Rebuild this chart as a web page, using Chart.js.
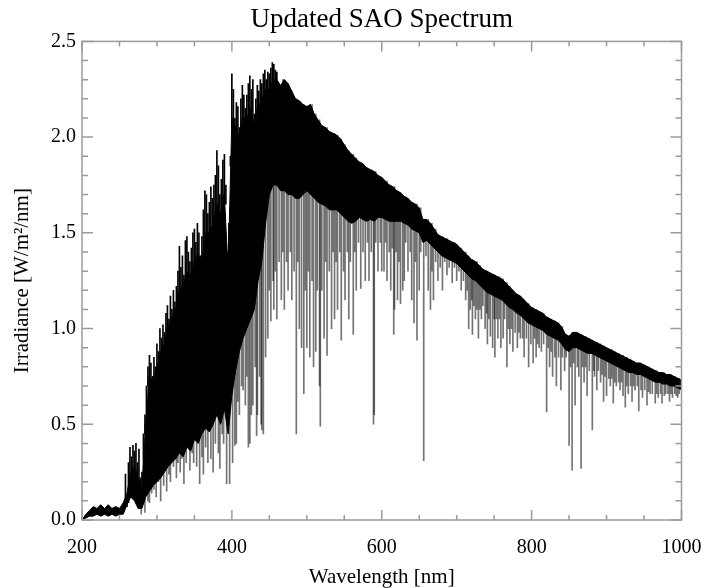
<!DOCTYPE html>
<html>
<head>
<meta charset="utf-8">
<script src="https://cdn.jsdelivr.net/npm/chart.js@4.4.0/dist/chart.umd.min.js"></script>
<style>
html,body{margin:0;padding:0;background:#fff;}
#wrap{position:relative;width:701px;height:588px;}
</style>
</head>
<body>
<div id="wrap"><canvas id="c"></canvas></div>
<script>
// Wavelength grid (nm) for the spectrum envelope
const wavelengths = [
200,205,210,215,220,225,230,235,240,245,
250,255,260,265,270,275,280,285,290,295,
300,305,310,315,320,325,330,335,340,345,
350,355,360,365,370,375,380,385,390,395,
400,405,410,415,420,425,430,435,440,445,
450,455,460,465,470,475,480,485,490,495,
500,505,510,515,520,525,530,535,540,545,
550,555,560,565,570,575,580,585,590,595,
600,605,610,615,620,625,630,635,640,645,
650,655,660,665,670,675,680,685,690,695,
700,705,710,715,720,725,730,735,740,745,
750,755,760,765,770,775,780,785,790,795,
800,805,810,815,820,825,830,835,840,845,
850,855,860,865,870,875,880,885,890,895,
900,905,910,915,920,925,930,935,940,945,
950,955,960,965,970,975,980,985,990,995,
1000];
// Upper edge of the solid core of the spectrum (W/m^2/nm)
const upperIrr = [
0.00,0.03,0.05,0.07,0.06,0.08,0.06,0.08,0.06,0.07,
0.06,0.09,0.14,0.25,0.28,0.22,0.15,0.50,0.75,0.72,
0.80,0.88,0.92,1.00,1.05,1.10,1.20,1.22,1.30,1.28,
1.35,1.38,1.35,1.50,1.50,1.55,1.65,1.60,1.70,1.30,
2.10,2.05,2.00,2.10,2.10,2.15,2.05,2.15,2.20,2.25,
2.25,2.30,2.30,2.27,2.30,2.28,2.24,2.20,2.19,2.17,
2.16,2.17,2.12,2.09,2.06,2.05,2.03,2.02,2.01,1.99,
1.96,1.93,1.91,1.89,1.87,1.86,1.84,1.83,1.82,1.80,
1.79,1.77,1.75,1.74,1.72,1.71,1.69,1.68,1.66,1.65,
1.63,1.57,1.57,1.55,1.52,1.49,1.48,1.47,1.46,1.45,
1.44,1.42,1.40,1.38,1.36,1.35,1.33,1.31,1.30,1.29,
1.28,1.27,1.26,1.24,1.22,1.20,1.18,1.17,1.15,1.13,
1.11,1.10,1.09,1.08,1.06,1.05,1.04,1.03,1.01,0.97,
0.96,0.98,0.98,0.97,0.96,0.95,0.94,0.93,0.92,0.91,
0.90,0.89,0.88,0.87,0.86,0.85,0.84,0.83,0.82,0.82,
0.81,0.80,0.79,0.78,0.77,0.77,0.76,0.76,0.75,0.74,
0.73];
// Lower edge of the dense (solid) part of the spectrum
const denseLowIrr = [
0.00,0.01,0.02,0.02,0.03,0.02,0.03,0.02,0.03,0.02,
0.03,0.03,0.08,0.12,0.10,0.06,0.06,0.12,0.15,0.18,
0.20,0.22,0.25,0.28,0.30,0.32,0.35,0.33,0.38,0.36,
0.42,0.40,0.45,0.48,0.46,0.50,0.55,0.50,0.58,0.45,
0.65,0.78,0.88,0.95,1.00,1.05,1.10,1.25,1.35,1.55,
1.70,1.75,1.75,1.72,1.72,1.70,1.70,1.68,1.68,1.70,
1.72,1.70,1.68,1.66,1.65,1.64,1.62,1.62,1.62,1.60,
1.58,1.56,1.55,1.56,1.58,1.57,1.56,1.57,1.56,1.58,
1.58,1.57,1.56,1.56,1.56,1.56,1.55,1.54,1.52,1.51,
1.50,1.45,1.46,1.44,1.42,1.40,1.38,1.37,1.36,1.35,
1.34,1.32,1.30,1.28,1.26,1.25,1.23,1.21,1.19,1.18,
1.17,1.16,1.15,1.13,1.11,1.10,1.08,1.07,1.05,1.03,
1.02,1.01,1.00,0.99,0.97,0.96,0.95,0.94,0.92,0.89,
0.88,0.90,0.90,0.89,0.88,0.87,0.87,0.86,0.85,0.84,
0.83,0.82,0.81,0.80,0.79,0.78,0.77,0.77,0.76,0.76,
0.75,0.74,0.73,0.72,0.72,0.71,0.71,0.70,0.70,0.69,
0.68];
// Emission peaks rising above the core, 258-460 nm
const peakWl = [
258,260,262,264,266,268,270,272,274,276,278,
280,282,284,286,288,290,292,294,296,298,
300,302,304,306,308,310,312,314,316,318,
320,322,324,326,328,330,332,334,336,338,
340,342,344,346,348,350,352,354,356,358,
360,362,364,366,368,370,372,374,376,378,
380,382,384,386,388,390,392,394,396,398,
400,402,404,406,408,410,412,414,416,418,
420,422,424,426,428,430,432,434,436,438,
440,442,444,446,448,450,452,454,456,458,
460];
const peakIrr = [
0.24,0.12,0.30,0.38,0.33,0.39,0.36,0.40,0.30,0.37,0.22,
0.25,0.45,0.55,0.70,0.80,0.86,0.82,0.75,0.85,0.80,
0.92,0.88,1.00,0.95,1.02,0.98,1.08,1.12,1.05,1.17,
1.10,1.20,1.14,1.22,1.30,1.43,1.32,1.38,1.28,1.46,
1.48,1.40,1.35,1.42,1.50,1.52,1.45,1.55,1.50,1.38,
1.48,1.62,1.72,1.70,1.60,1.66,1.74,1.68,1.75,1.80,
1.93,1.85,1.70,1.78,1.88,1.91,1.75,1.40,1.55,1.90,
2.33,2.25,2.10,2.18,2.16,2.05,2.20,2.27,2.22,2.15,
2.22,2.28,2.32,2.25,2.30,2.12,2.20,2.27,2.24,2.30,
2.28,2.33,2.35,2.30,2.34,2.33,2.36,2.39,2.38,2.35,
2.34];
// Absorption lines: wavelength (nm) and the irradiance they dip down to
const lineWl = [
279,284,288,290,293,296,299,302,305,309,313,316,318,322,326,328,331,333,336,339,
344,347,349,353,357,360,362,365,368,372,375,378,382,384,387,389,393,397,
401,404,406,408,410,413,415,418,420,422,424,426,428,431,433,434,437,439,440,442,
445,448,450,452,455,456,458,460,463,466,468,470,473,475,478,480,483,486,488,490,
493,496,498,500,502,504,507,509,512,514,
517,518,520,523,525,527,530,533,535,537,539,541,544,546,549,551,554,556,558,562,
564,566,569,572,575,578,581,583,586,589,590,592,595,598,600,
603,605,607,610,612,614,616,617,619,621,623,625,628,630,632,635,638,640,643,645,
647,650,652,656,659,662,665,667,669,672,675,678,681,684,687,690,694,697,700,703,
706,709,712,714,716,718,720,721,723,725,727,729,731,733,735,738,740,741,743,745,
748,750,751,753,755,757,759,762,764,767,769,771,773,775,778,781,783,785,788,790,
793,796,799,802,804,806,808,810,
813,816,820,822,824,826,828,831,833,836,839,841,844,846,850,852,854,856,858,861,
863,866,868,870,872,874,877,881,883,884,887,889,892,894,896,898,900,903,905,907,
909,911,913,916,918,920,922,925,927,929,932,934,936,938,941,943,946,948,951,954,
956,958,961,965,967,969,972,974,977,979,982,984,986,988,991,993,995,997];
const lineLowIrr = [
0.03,0.04,0.10,0.09,0.14,0.16,0.12,0.20,0.10,0.18,0.15,0.24,0.20,0.28,0.22,0.30,0.25,0.32,0.19,0.30,
0.26,0.35,0.30,0.28,0.19,0.33,0.24,0.38,0.30,0.32,0.25,0.40,0.35,0.27,0.45,0.40,0.19,0.19,
0.30,0.39,0.40,0.62,0.55,0.70,0.68,0.60,0.75,0.38,0.40,0.55,0.60,0.80,0.44,0.55,0.75,0.50,0.47,0.45,
0.85,0.95,1.20,1.04,1.25,1.10,1.30,1.05,1.35,1.15,1.40,1.10,1.35,1.20,1.40,1.15,1.30,0.45,1.35,1.00,
0.90,0.66,1.20,0.90,1.30,0.85,1.25,0.80,0.88,1.20,
0.70,0.49,1.20,0.95,1.35,0.86,1.30,1.00,1.40,1.05,1.35,1.10,1.40,0.94,1.30,1.15,1.40,1.05,1.35,0.97,
1.40,1.20,1.45,1.21,1.40,1.25,1.45,1.25,1.40,0.50,0.55,1.45,1.30,1.45,1.30,
1.30,1.45,1.25,1.40,1.20,1.42,0.97,1.10,1.40,1.15,1.35,1.13,1.20,1.25,1.45,1.30,1.40,1.15,1.03,1.35,
0.94,1.20,1.40,0.31,1.38,1.20,1.10,1.30,1.15,1.35,1.25,1.32,1.20,1.35,1.28,1.32,1.24,1.32,1.25,1.30,
1.20,1.25,1.15,1.20,1.00,1.10,1.15,0.97,1.12,1.05,1.10,0.95,1.10,1.05,1.12,1.00,1.08,0.92,1.05,0.96,
0.90,1.05,0.85,1.05,0.95,1.05,0.90,0.95,1.05,0.80,1.00,0.92,1.00,0.88,0.98,0.90,0.98,0.95,0.95,0.85,
0.95,0.80,0.92,0.82,0.95,0.85,0.92,0.90,
0.88,0.92,0.565,0.90,0.80,0.88,0.75,0.85,0.70,0.85,0.68,0.85,0.78,0.85,0.39,0.80,0.26,0.82,0.60,0.80,
0.75,0.27,0.80,0.72,0.80,0.65,0.78,0.47,0.78,0.75,0.68,0.78,0.72,0.76,0.62,0.75,0.65,0.74,0.70,0.74,
0.61,0.72,0.70,0.72,0.68,0.72,0.65,0.59,0.70,0.66,0.70,0.62,0.70,0.68,0.70,0.57,0.68,0.64,0.68,0.60,
0.67,0.66,0.66,0.61,0.66,0.64,0.66,0.61,0.65,0.66,0.66,0.62,0.66,0.64,0.66,0.65,0.64,0.66];
// Axis ticks
const xTickVals = [200,400,600,800,1000];
const xTickLabels = ['200','400','600','800','1000'];
const xMinorVals = [250,300,350,450,500,550,650,700,750,850,900,950];
const yTickVals = [0,0.5,1.0,1.5,2.0,2.5];
const yTickLabels = ['0.0','0.5','1.0','1.5','2.0','2.5'];
const yMinorVals = [0.1,0.2,0.3,0.4,0.6,0.7,0.8,0.9,1.1,1.2,1.3,1.4,1.6,1.7,1.8,1.9,2.1,2.2,2.3,2.4];

const coreAt = w => upperIrr[Math.min(wavelengths.length-1, Math.max(0, Math.round((w-200)/5)))];
const upperPts = wavelengths.map((w,i)=>({x:w,y:upperIrr[i]}));
const lowPts = wavelengths.map((w,i)=>({x:w,y:denseLowIrr[i]}));
const linePts = lineWl.map((w,i)=>({x:w, y:[lineLowIrr[i], coreAt(w)]}));
const peakPts = peakWl.map((w,i)=>({x:w, y:[Math.min(coreAt(w), peakIrr[i])-0.05, peakIrr[i]]}));

const serif = "'Liberation Serif','DejaVu Serif','Times New Roman',serif";

const frameTicks = {
  id:'frameTicks',
  afterDatasetsDraw(chart){
    const {ctx, chartArea:a, scales:{x,y}} = chart;
    ctx.save();
    ctx.strokeStyle = '#9a9a9a';
    ctx.lineWidth = 1.5;
    ctx.strokeRect(a.left, a.top, a.right-a.left, a.bottom-a.top);
    ctx.beginPath();
    const tx = (v,len)=>{const p=x.getPixelForValue(v);
      ctx.moveTo(p,a.bottom);ctx.lineTo(p,a.bottom-len);
      ctx.moveTo(p,a.top);ctx.lineTo(p,a.top+len);};
    const ty = (v,len)=>{const p=y.getPixelForValue(v);
      ctx.moveTo(a.left,p);ctx.lineTo(a.left+len,p);
      ctx.moveTo(a.right,p);ctx.lineTo(a.right-len,p);};
    xTickVals.forEach(v=>tx(v,10));
    xMinorVals.forEach(v=>tx(v,5));
    yTickVals.forEach(v=>ty(v,11));
    yMinorVals.forEach(v=>ty(v,6));
    ctx.stroke();
    ctx.restore();
  }
};

new Chart(document.getElementById('c'), {
  type:'line',
  data:{
    datasets:[
      {label:'lines', type:'bar', data:linePts, backgroundColor:'rgba(0,0,0,0.55)',
       barThickness:1, grouped:false, order:4, borderWidth:0},
      {label:'dense low', data:lowPts, borderColor:'#000', borderWidth:1, pointRadius:0,
       fill:false, order:3, tension:0},
      {label:'spectrum', data:upperPts, borderColor:'#000', borderWidth:1, pointRadius:0,
       backgroundColor:'#000', fill:{target:1}, order:2, tension:0},
      {label:'peaks', type:'bar', data:peakPts, backgroundColor:'#000',
       barThickness:1, grouped:false, order:1, borderWidth:0}
    ]
  },
  options:{
    responsive:true, maintainAspectRatio:false, animation:false,
    layout:{padding:{top:0,right:0,bottom:0,left:0}},
    plugins:{
      legend:{display:false}, tooltip:{enabled:false},
      title:{display:true, fullSize:false, text:'Updated SAO Spectrum', color:'#000',
        font:{family:serif, size:27, weight:'normal'}, padding:{top:4,bottom:5}}
    },
    scales:{
      x:{type:'linear', min:200, max:1000, offset:false,
        grid:{display:false, offset:false, drawTicks:false}, border:{display:false},
        afterBuildTicks:s=>{s.ticks = xTickVals.map(v=>({value:v}));},
        afterFit:s=>{s.height = 68; s.paddingLeft = 0; s.paddingRight = 19.5;},
        ticks:{color:'#000', padding:16, maxRotation:0, autoSkip:false,
          font:{family:serif, size:20},
          callback:(v,i)=>xTickLabels[i]},
        title:{display:true, text:'Wavelength [nm]', color:'#000',
          font:{family:serif, size:21}, padding:{top:0,bottom:-2}}
      },
      y:{type:'linear', min:0, max:2.5,
        grid:{display:false, drawTicks:false}, border:{display:false},
        afterBuildTicks:s=>{s.ticks = yTickVals.map(v=>({value:v}));},
        afterFit:s=>{s.width = 82;},
        ticks:{color:'#000', padding:6, autoSkip:false,
          font:{family:serif, size:20},
          callback:(v,i)=>yTickLabels[i]},
        title:{display:true, text:'Irradiance [W/m\u00B2/nm]', color:'#000',
          font:{family:serif, size:21}, padding:{top:10,bottom:0}}
      }
    }
  },
  plugins:[frameTicks]
});
</script>
</body>
</html>
